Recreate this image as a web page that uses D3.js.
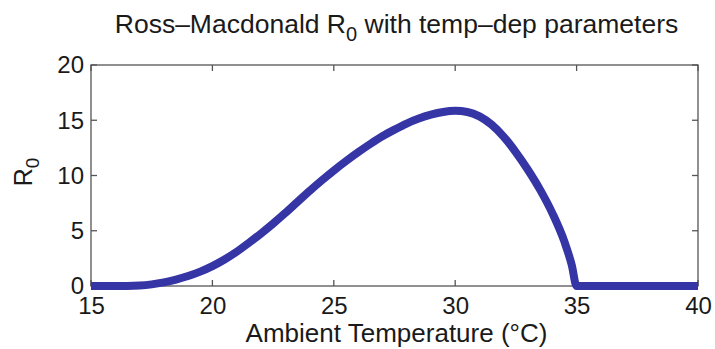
<!DOCTYPE html>
<html>
<head>
<meta charset="utf-8">
<script src="https://cdn.jsdelivr.net/npm/d3@7"></script>
<style>
  html, body { margin: 0; padding: 0; background: #fff; }
  svg { display: block; }
  text { font-family: "Liberation Sans", Arial, Helvetica, sans-serif; fill: #1a1a1a; }
</style>
</head>
<body>
<svg id="chart" width="715" height="349"></svg>
<script>
// ---- data ----
const temperature = [15, 16, 16.5, 17, 17.5, 18, 18.5, 19, 19.5, 20, 20.5, 21, 21.5, 22, 22.5, 23, 23.5, 24, 24.5, 25, 25.5, 26, 26.5, 27, 27.5, 28, 28.5, 29, 29.5, 30, 30.5, 31, 31.5, 32, 32.5, 33, 33.5, 34, 34.5, 34.8, 35, 36, 37, 38, 39, 40];
const r0Values    = [0, 0, 0, 0.04, 0.15, 0.33, 0.58, 0.9, 1.3, 1.8, 2.4, 3.1, 3.9, 4.75, 5.65, 6.6, 7.6, 8.6, 9.55, 10.45, 11.3, 12.1, 12.85, 13.55, 14.15, 14.7, 15.15, 15.5, 15.75, 15.85, 15.75, 15.35, 14.6, 13.5, 12.1, 10.5, 8.7, 6.6, 4.0, 1.9, 0, 0, 0, 0, 0, 0];
const xTicks = [15, 20, 25, 30, 35, 40];
const yTicks = [0, 5, 10, 15, 20];
const titleMain = "Ross–Macdonald R";
const titleSub = "0";
const titleRest = " with temp–dep parameters";
const xLabel = "Ambient Temperature (°C)";
const yLabelMain = "R";
const yLabelSub = "0";

// ---- layout ----
const mLeft = 91, mRight = 698, mTop = 65, mBottom = 286;
const svg = d3.select("#chart");

const x = d3.scaleLinear().domain([15, 40]).range([mLeft, mRight]);
const y = d3.scaleLinear().domain([0, 20]).range([mBottom, mTop]);

const axisColor = "#555";
const tickLen = 6;

// box
svg.append("rect")
  .attr("x", mLeft).attr("y", mTop)
  .attr("width", mRight - mLeft).attr("height", mBottom - mTop)
  .attr("fill", "none").attr("stroke", axisColor).attr("stroke-width", 1.3);

// ticks (inside, mirrored)
const g = svg.append("g");
xTicks.forEach(t => {
  g.append("line").attr("x1", x(t)).attr("x2", x(t)).attr("y1", mBottom).attr("y2", mBottom - tickLen)
    .attr("stroke", axisColor).attr("stroke-width", 1.3);
  g.append("line").attr("x1", x(t)).attr("x2", x(t)).attr("y1", mTop).attr("y2", mTop + tickLen)
    .attr("stroke", axisColor).attr("stroke-width", 1.3);
});
yTicks.forEach(t => {
  g.append("line").attr("x1", mLeft).attr("x2", mLeft + tickLen).attr("y1", y(t)).attr("y2", y(t))
    .attr("stroke", axisColor).attr("stroke-width", 1.3);
  g.append("line").attr("x1", mRight).attr("x2", mRight - tickLen).attr("y1", y(t)).attr("y2", y(t))
    .attr("stroke", axisColor).attr("stroke-width", 1.3);
});

// tick labels
const xAxis = d3.axisBottom(x).tickValues(xTicks).tickSize(0).tickPadding(0).tickFormat(d3.format("d"));
const xg = svg.append("g").attr("transform", `translate(0,${mBottom})`).call(xAxis);
xg.select(".domain").remove();
xg.selectAll("text").attr("font-size", 24).attr("dy", null).attr("y", 28)
  .attr("fill", "#1a1a1a").attr("font-family", "Liberation Sans, Arial, sans-serif");

const yAxis = d3.axisLeft(y).tickValues(yTicks).tickSize(0).tickPadding(0).tickFormat(d3.format("d"));
const yg = svg.append("g").attr("transform", `translate(${mLeft},0)`).call(yAxis);
yg.select(".domain").remove();
yg.selectAll("text").attr("font-size", 24).attr("x", -7).attr("dy", "0.33em")
  .attr("fill", "#1a1a1a").attr("font-family", "Liberation Sans, Arial, sans-serif");

// curve
const pts = temperature.map((t, i) => [t, r0Values[i]]);
const line = d3.line().x(d => x(d[0])).y(d => y(d[1])).curve(d3.curveMonotoneX);
svg.append("path")
  .attr("d", line(pts))
  .attr("fill", "none")
  .attr("stroke", "#3535a6")
  .attr("stroke-width", 8)
  .attr("stroke-linejoin", "round")
  .attr("stroke-linecap", "butt");

// title
const title = svg.append("text").attr("x", (mLeft + mRight) / 2 + 2).attr("y", 33)
  .attr("text-anchor", "middle").attr("font-size", 26.5);
title.append("tspan").text(titleMain);
title.append("tspan").attr("dy", 8).attr("font-size", 20).text(titleSub);
title.append("tspan").attr("dy", -8).text(titleRest);

// x label
svg.append("text").attr("x", (mLeft + mRight) / 2 + 2).attr("y", 342)
  .attr("text-anchor", "middle").attr("font-size", 26).text(xLabel);

// y label
const yl = svg.append("text").attr("transform", "translate(32,172) rotate(-90)")
  .attr("text-anchor", "middle").attr("font-size", 25);
yl.append("tspan").text(yLabelMain);
yl.append("tspan").attr("dy", 7).attr("font-size", 19).text(yLabelSub);
</script>
</body>
</html>
